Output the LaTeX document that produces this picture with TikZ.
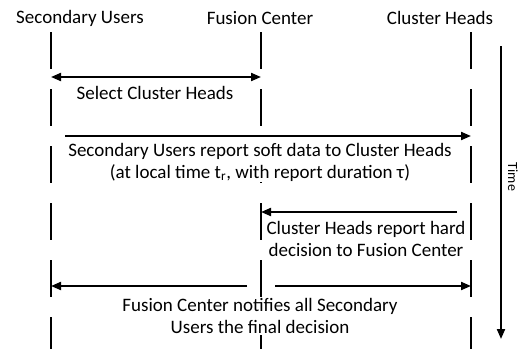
\documentclass[tikz,border=0pt]{standalone}
\usepackage{fontspec}
\setmainfont{Carlito}
\usetikzlibrary{arrows.meta}
\begin{document}
\begin{tikzpicture}[x=1pt,y=-1pt,
  lifeline/.style={line width=2pt, dash pattern=on 37pt off 20pt},
  msg/.style={line width=2pt, -{Triangle[length=10pt,width=8pt]}},
  dmsg/.style={line width=2pt, {Triangle[length=10pt,width=8pt]}-{Triangle[length=10pt,width=8pt]}},
  lbl/.style={font=\fontsize{19}{22}\selectfont, align=center, inner sep=1pt},
  txt/.style={lbl, fill=white}]
\useasboundingbox (0,0) rectangle (519,349);

% participants
\node[lbl] (hSU) at (80,18) {Secondary Users};
\node[lbl] (hFC) at (260,18) {Fusion Center};
\node[lbl] (hCH) at (440,18) {Cluster Heads};

% lifelines
\coordinate (suTop) at (51,32);  \coordinate (suBot) at (51,349);
\coordinate (fcTop) at (261,32); \coordinate (fcBot) at (261,349);
\coordinate (chTop) at (471,32); \coordinate (chBot) at (471,349);
\draw[lifeline] (suTop) -- (suBot);
\draw[lifeline] (fcTop) -- (fcBot);
\draw[lifeline] (chTop) -- (chBot);

% time axis
\coordinate (tTop) at (501,46);
\coordinate (tBot) at (501,339);
\draw[msg] (tTop) -- (tBot);
\node[font=\fontsize{14}{16}\selectfont, inner sep=0pt, rotate=-90, anchor=base] (tLbl) at (508,177) {Time};

% step 1: select cluster heads
\coordinate (m1a) at (51,77); \coordinate (m1b) at (261,77);
\draw[dmsg] (m1a) -- (m1b);
\node[lbl] (t1) at (155,93) {Select Cluster Heads};

% step 2: soft data report
\coordinate (m2a) at (65,136); \coordinate (m2b) at (471,136);
\draw[msg] (m2a) -- (m2b);
\node[txt] (t2) at (260,162) {Secondary Users report soft data to Cluster Heads\\(at local time t\textsubscript{r}, with report duration τ)};

% step 3: hard decision report
\coordinate (m3a) at (457,212); \coordinate (m3b) at (261,212);
\draw[msg] (m3a) -- (m3b);
\node[lbl] (t3) at (366,239) {Cluster Heads report hard\\decision to Fusion Center};

% step 4: final decision broadcast
\coordinate (m4a) at (247,286); \coordinate (m4b) at (51,286);
\coordinate (m4c) at (275,286); \coordinate (m4d) at (471,286);
\draw[msg] (m4a) -- (m4b);
\draw[msg] (m4c) -- (m4d);
\node[txt] (t4) at (260,316) {Fusion Center notifies all Secondary\\Users the final decision};
\end{tikzpicture}
\end{document}
